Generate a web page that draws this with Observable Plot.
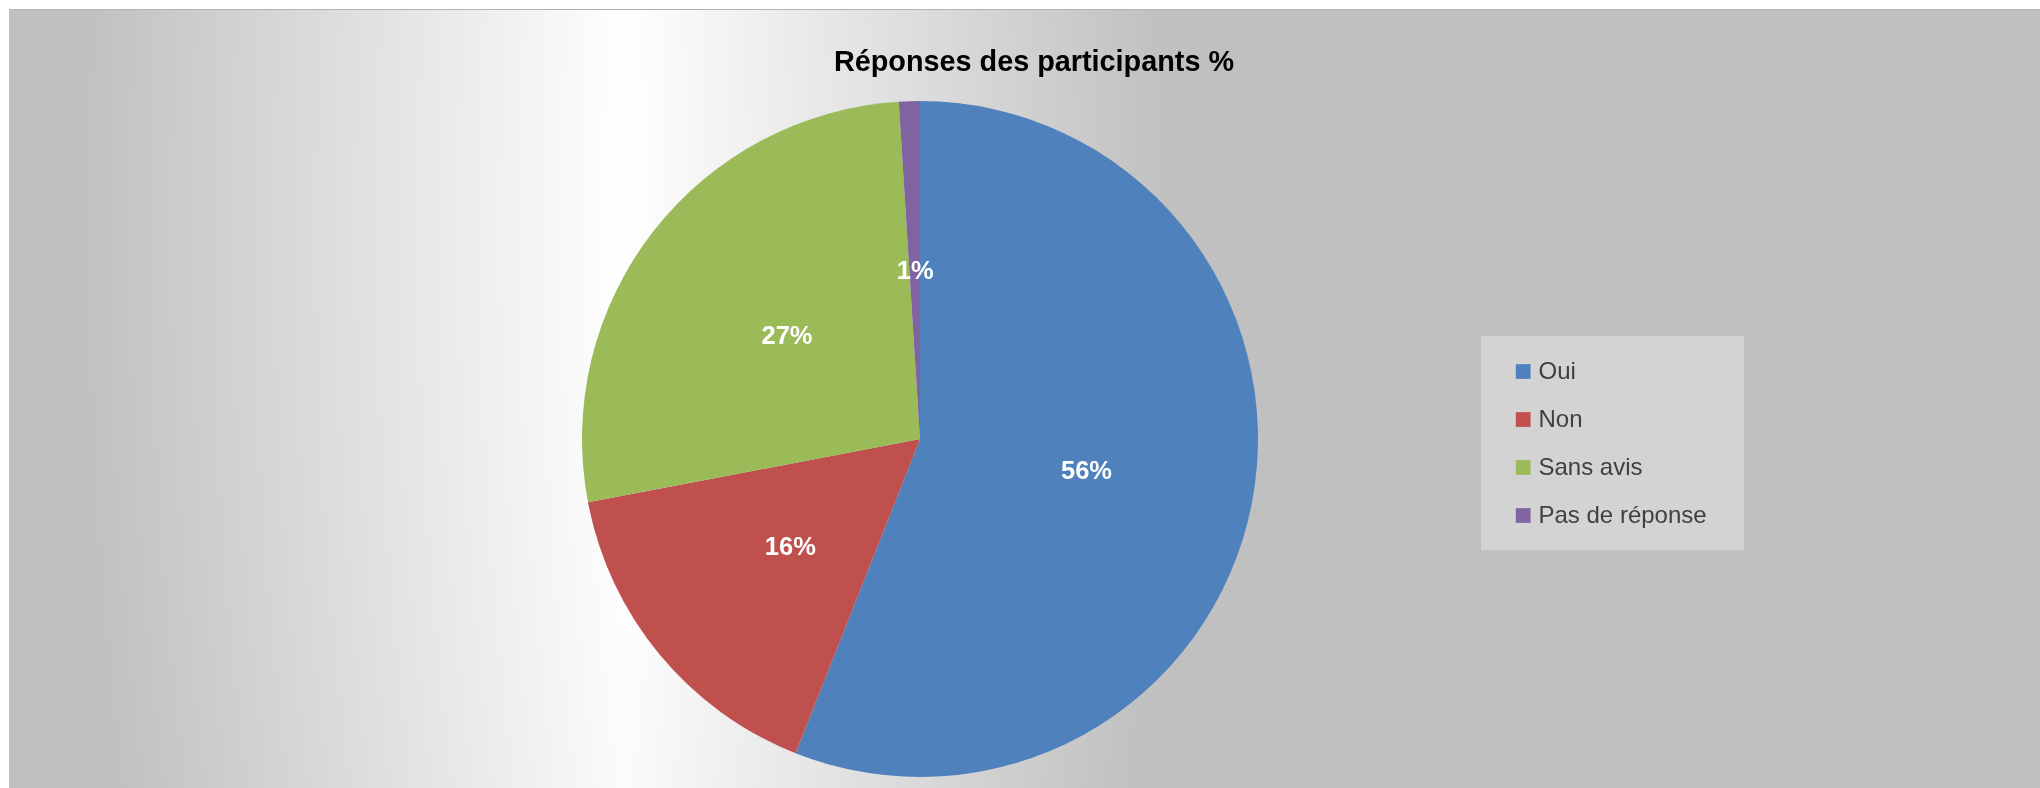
<!DOCTYPE html>
<html><head><meta charset="utf-8">
<script src="https://cdn.jsdelivr.net/npm/d3@7"></script>
<script src="https://cdn.jsdelivr.net/npm/@observablehq/plot@0.6"></script>
<style>
html,body{margin:0;padding:0;background:#fff;}
#wrap{position:relative;width:2040px;height:788px;overflow:hidden;font-family:"Liberation Sans",Arial,sans-serif;}
#bg{position:absolute;left:9px;top:9px;width:2031px;height:779px;display:block;}
#topline{position:absolute;left:9px;top:9px;width:2031px;height:1px;background:#b4b4b4;}
#chart{position:absolute;left:0;top:0;}
#title{position:absolute;left:0;width:2068px;top:47px;text-align:center;font-size:28.8px;line-height:1;font-weight:bold;color:#000;}
#legend{position:absolute;left:1481px;top:336px;width:263px;height:214px;background:#d3d3d3;}
</style></head><body>
<div id="wrap"><canvas id="bg" width="2031" height="779"></canvas><div id="topline"></div><div id="chart"></div><div id="title"></div><div id="legend"></div></div>
<script>
const chartTitle = "Réponses des participants %";
const categories = ["Oui", "Non", "Sans avis", "Pas de réponse"];
const values = [56, 16, 27, 1];
const colors = ["#4f81bd", "#c0504d", "#9bbb59", "#8064a2"];

// decorative background (white band fading to grey, slightly curved)
(function paintBackground() {
  const cv = document.getElementById("bg");
  const ctx = cv.getContext("2d");
  const W = cv.width, H = cv.height;
  const img = ctx.createImageData(W, H);
  const cx = 624, cy = 232, rx = 546, k = 1.15e-4;
  for (let y = 0; y < H; y++) {
    const Y = y + 9, bend = k * (Y - cy) * (Y - cy);
    for (let x = 0; x < W; x++) {
      const X = x + 9;
      let t = (Math.abs(X - cx) + bend) / rx;
      if (t > 1) t = 1;
      const v = Math.round(255 - 63 * t);
      const o = (y * W + x) * 4;
      img.data[o] = v; img.data[o + 1] = v; img.data[o + 2] = v; img.data[o + 3] = 255;
    }
  }
  ctx.putImageData(img, 0, 0);
})();

const data = categories.map((c, i) => ({category: c, value: values[i]}));
const arcs = d3.pie().sort(null).value(d => d.value)(data);
const mid = d => (d.startAngle + d.endAngle) / 2;

document.getElementById("title").textContent = chartTitle;

const pie = Plot.plot({
  width: 2040, height: 788, margin: 0,
  style: {background: "transparent", fontFamily: "Liberation Sans, Arial, sans-serif", overflow: "visible"},
  x: {domain: [-1, 1], range: [582, 1258], axis: null},
  y: {domain: [-1, 1], range: [777, 101], axis: null},
  color: {domain: categories, range: colors},
  marks: [
    Plot.dot(arcs, {
      x: () => 0, y: () => 0,
      fill: d => d.data.category,
      render(index, scales, vals) {
        const cx = scales.x(0), cy = scales.y(0), r = Math.abs(scales.x(1) - scales.x(0));
        const arc = d3.arc().innerRadius(0).outerRadius(r);
        const g = d3.create("svg:g").attr("transform", `translate(${cx},${cy})`);
        g.selectAll("path").data(index).join("path")
          .attr("d", i => arc(arcs[i]))
          .attr("fill", i => vals.fill[i]);
        return g.node();
      }
    }),
    Plot.text(arcs, {
      x: d => 0.5 * Math.sin(mid(d)),
      y: d => 0.5 * Math.cos(mid(d)),
      text: d => `${d.data.value}%`,
      fill: "white", fontWeight: "bold", fontSize: 25.5
    })
  ]
});
document.getElementById("chart").appendChild(pie);

const legend = Plot.plot({
  width: 263, height: 214, margin: 0,
  style: {background: "transparent", fontFamily: "Liberation Sans, Arial, sans-serif", overflow: "visible"},
  y: {type: "point", domain: categories, range: [34.5, 179], padding: 0, axis: null},
  color: {domain: categories, range: colors},
  marks: [
    Plot.dot(categories, {y: d => d, frameAnchor: "left", dx: 41.7, symbol: "square", r: 8.3, fill: d => d}),
    Plot.text(categories, {y: d => d, frameAnchor: "left", dx: 57, textAnchor: "start", text: d => d, fill: "#404040", fontSize: 24})
  ]
});
document.getElementById("legend").appendChild(legend);
</script>
</body></html>
